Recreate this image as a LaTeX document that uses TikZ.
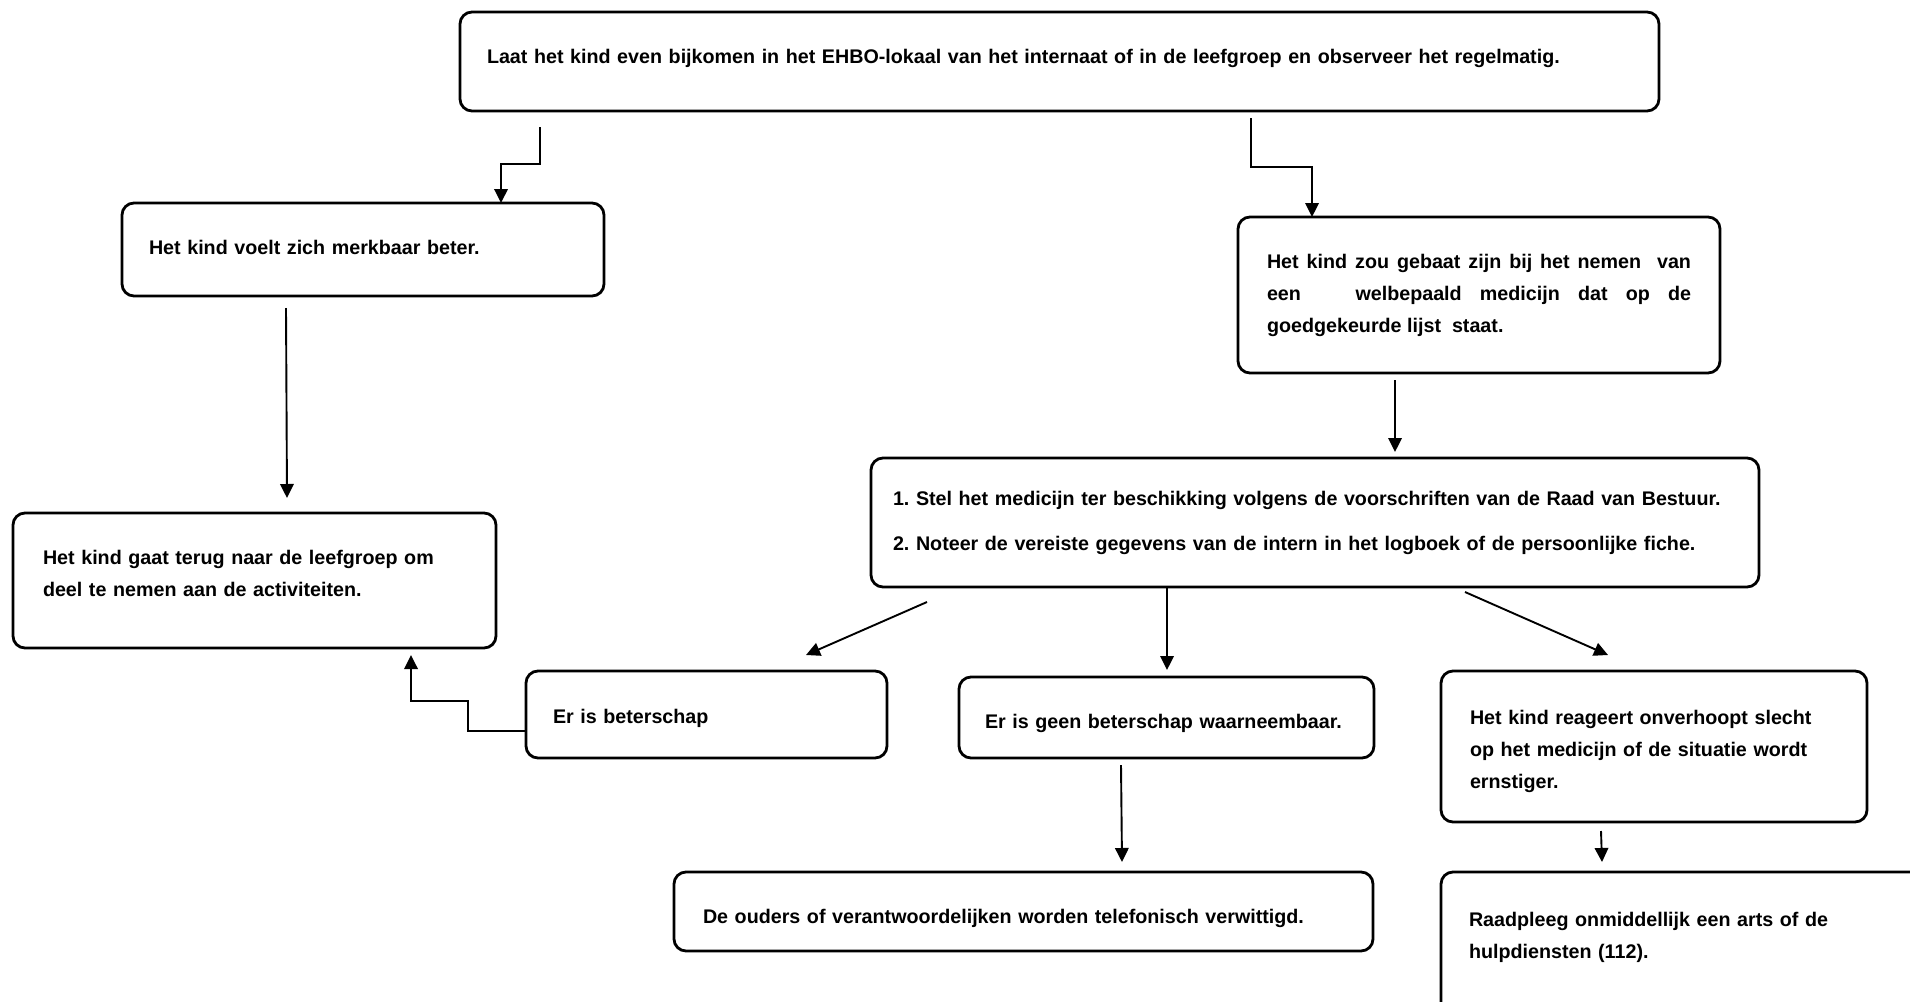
\documentclass[tikz,border=0pt]{standalone}
\usepackage{fontspec}
\setmainfont{Liberation Sans}
\usetikzlibrary{arrows.meta,calc}
\frenchspacing
\tikzset{
  box/.style={draw, line width=2.8pt, rounded corners=12pt, anchor=north west,
    outer sep=0pt, inner ysep=0pt, align=left,
    font=\fontsize{19.7}{32}\selectfont\bfseries\frenchspacing},
  conn/.style={line width=1.9pt, -{Triangle[length=14pt,width=13.5pt]}},
}
\begin{document}
\begin{tikzpicture}[x=1pt,y=-1pt]
\useasboundingbox (0,0) rectangle (1910,1001);
\clip (0,0) rectangle (1910,1001);
\fill[white] (0,0) rectangle (1910,1001);

\node[box, minimum width=1199pt, text height=51pt, text depth=48pt, inner xsep=27pt, text width=1145pt] (top) at (460,12)
  {Laat het kind even bijkomen in het EHBO-lokaal van het internaat of in de leefgroep en observeer het regelmatig.};

\node[box, minimum width=482pt, text height=51pt, text depth=42pt, inner xsep=27pt, text width=428pt] (A) at (122,203)
  {Het kind voelt zich merkbaar beter.};

\node[box, align=justify, minimum width=482pt, text height=51pt, text depth=105pt, inner xsep=29pt, text width=424pt] (B) at (1238,217)
  {Het kind zou gebaat zijn bij het nemen \ van\linebreak een \ \ welbepaald medicijn dat op de\linebreak goedgekeurde lijst \ staat.};

\node[box, minimum width=888pt, text height=47pt, text depth=82pt, inner xsep=22pt, text width=844pt] (C) at (871,458)
  {1. Stel het medicijn ter beschikking volgens de voorschriften van de Raad van Bestuur.\\[13pt]2. Noteer de vereiste gegevens van de intern in het logboek of de persoonlijke fiche.};

\node[box, minimum width=483pt, text height=51pt, text depth=84pt, inner xsep=30pt, text width=423pt] (D) at (13,513)
  {Het kind gaat terug naar de leefgroep om\\deel te nemen aan de activiteiten.};

\node[box, minimum width=361pt, text height=52pt, text depth=35pt, inner xsep=27pt, text width=307pt] (E) at (526,671)
  {Er is beterschap};

\node[box, minimum width=415pt, text height=51pt, text depth=30pt, inner xsep=26pt, text width=363pt] (F) at (959,677)
  {Er is geen beterschap waarneembaar.};

\node[box, minimum width=426pt, text height=53pt, text depth=98pt, inner xsep=29pt, text width=368pt] (G) at (1441,671)
  {Het kind reageert onverhoopt slecht\\op het medicijn of de situatie wordt\\ernstiger.};

\node[box, minimum width=699pt, text height=51pt, text depth=28pt, inner xsep=29pt, text width=641pt] (H) at (674,872)
  {De ouders of verantwoordelijken worden telefonisch verwittigd.};

\node[box, minimum width=520pt, text height=54pt, text depth=96pt, inner xsep=28pt, text width=464pt] (I) at (1441,872)
  {Raadpleeg onmiddellijk een arts of de\\hulpdiensten (112).};

% connectors
\draw[conn] ($(top.south west)+(80,16)$) |- ($(A.north west)+(379,-39)$) -- ($(A.north west)+(379,0)$);
\draw[conn] ($(top.south west)+(791,7)$) |- ($(B.north west)+(74,-50)$) -- ($(B.north west)+(74,0)$);
\draw[conn] ($(A.south west)+(164,12)$) -- ($(D.north west)+(274,-15)$);
\draw[conn] ($(B.south west)+(157,7)$) -- ($(C.north west)+(524,-6)$);
\draw[conn] ($(C.south west)+(56,15)$) -- ($(E.north west)+(280,-16)$);
\draw[conn] ($(C.south west)+(296,0)$) -- ($(F.north west)+(208,-7)$);
\draw[conn] ($(C.south west)+(594,5)$) -- ($(G.north west)+(167,-16)$);
\draw[conn] ($(E.south west)+(0,-27)$) -- ++(-58,0) |- ($(D.south west)+(398,53)$) -- ($(D.south west)+(398,7)$);
\draw[conn] ($(F.south west)+(162,7)$) -- ($(H.north west)+(448,-10)$);
\draw[conn] ($(G.south west)+(160,9)$) -- ($(I.north west)+(161,-10)$);
\end{tikzpicture}
\end{document}
